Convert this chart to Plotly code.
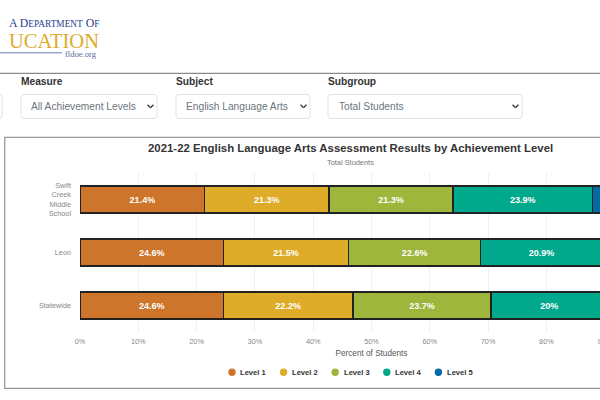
import plotly.graph_objects as go

schools = ["Swift<br>Creek<br>Middle<br>School", "Leon", "Statewide"]
levels = ["Level 1", "Level 2", "Level 3", "Level 4", "Level 5"]
level_1 = [21.4, 24.6, 24.6]
level_2 = [21.3, 21.5, 22.2]
level_3 = [21.3, 22.6, 23.7]
level_4 = [23.9, 20.9, 20.0]
level_5 = [12.4, 10.3, 9.5]
series = [level_1, level_2, level_3, level_4, level_5]
colors = ["#CC752B", "#DEAC28", "#9DB63B", "#00A88C", "#006BA6"]
tick_vals = [0, 10, 20, 30, 40, 50, 60, 70, 80, 90, 100]
tick_text = [f"{v}%" for v in tick_vals]

W, H = 700, 400
L, R, T, B = 80, 663, 173, 332
FONT = "Liberation Sans, Arial, sans-serif"
SERIF = "Liberation Serif, serif"
def px(x): return (x - L) / (R - L)
def py(y): return (B - y) / (B - T)

fig = go.Figure()
for name, vals, col in zip(levels, series, colors):
    fig.add_trace(go.Bar(
        y=schools, x=vals, name=name, orientation="h", showlegend=False,
        marker=dict(color=col, line=dict(color="#222222", width=1.4)),
        text=[f"{v:g}%" for v in vals], textposition="inside", insidetextanchor="middle",
        textangle=0, constraintext="none",
        textfont=dict(family=FONT, size=9, color="white", weight="bold"),
        hovertemplate="%{y}: %{x}%<extra>" + name + "</extra>",
    ))

def pline(x0, y0, x1, y1, color, width=1):
    return dict(type="line", xref="paper", yref="paper", x0=px(x0), x1=px(x1), y0=py(y0), y1=py(y1),
                line=dict(color=color, width=width))

def rounded(x0, y0, x1, y1, r=3):
    a, b, c, d = px(x0), px(x1), py(y0), py(y1)
    dx, dy = r / (R - L), r / (B - T)
    path = (f"M {a+dx} {c} L {b-dx} {c} Q {b} {c} {b} {c-dy} L {b} {d+dy} Q {b} {d} {b-dx} {d} "
            f"L {a+dx} {d} Q {a} {d} {a} {d+dy} L {a} {c-dy} Q {a} {c} {a+dx} {c} Z")
    return dict(type="path", xref="paper", yref="paper", path=path, fillcolor="white",
                line=dict(color="#dee2e6", width=1), layer="below")

shapes = [
    pline(-5, 73.3, 700, 73.3, "#8a8a8a", 1.3),
    dict(type="rect", xref="paper", yref="paper", x0=px(4.7), x1=px(720), y0=py(137.3), y1=py(388.3),
         line=dict(color="#999999", width=1.3), layer="below"),
    pline(-5, 52.8, 62, 52.8, "#6a7db0", 1),
]
for x0, x1 in [(-20, 2), (21, 157), (176, 310), (328, 522)]:
    shapes.append(rounded(x0, 94.5, x1, 118.5))
for cx in [150.5, 303.5, 515.5]:
    for a, b in [(cx - 3, cx), (cx + 3, cx)]:
        shapes.append(pline(a, 104.7, b, 107.7, "#343a40", 1.3))

def label(x, y, text, size, color, anchor="left", bold=False, family=FONT):
    fig.add_annotation(xref="paper", yref="paper", x=px(x), y=py(y), text=text, showarrow=False,
                       xanchor=anchor, yanchor="middle", borderpad=0, borderwidth=0,
                       font=dict(family=family, size=size, color=color,
                                 weight="bold" if bold else "normal"))

for i, (name, col) in enumerate(zip(levels, colors)):
    cx = 232 + 51.6 * i
    shapes.append(dict(type="circle", xref="paper", yref="paper", x0=px(cx - 3.7), x1=px(cx + 3.7),
                       y0=py(372.3 + 3.7), y1=py(372.3 - 3.7), fillcolor=col, line=dict(width=0)))
    label(cx + 8.3, 372.3, name, 7.6, "#333333", bold=True)

label(350.5, 148, "2021-22 English Language Arts Assessment Results by Achievement Level", 11.4, "#333333", "center", True)
label(350, 162, "Total Students", 7.4, "#777777", "center")
for x, t in [(21, "Measure"), (176, "Subject"), (328, "Subgroup")]:
    label(x, 81.5, t, 10.2, "#333333", bold=True)
for x, t in [(31, "All Achievement Levels"), (186, "English Language Arts"), (339, "Total Students")]:
    label(x, 106, t, 10.2, "#6c757d")
small = '<span style="font-size:9.3px">'
label(99, 23, f'A D{small}EPARTMENT</span> O{small}F</span>', 11.8, "#24408e", "right", family=SERIF)
label(98.5, 41, "UCATION", 20.5, "#dcab2c", "right", family=SERIF)
label(97, 54, "fldoe.org", 8.6, "#5a6a9a", "right", family=SERIF)

fig.update_layout(
    width=W, height=H, barmode="stack", bargap=0.49,
    paper_bgcolor="white", plot_bgcolor="white",
    font=dict(family=FONT),
    margin=dict(l=L, r=W - R, t=T, b=H - B, autoexpand=False),
    shapes=shapes, showlegend=False,
    xaxis=dict(range=[0, 100], tickmode="array", tickvals=tick_vals, ticktext=tick_text,
               tickfont=dict(size=7.3, color="#888888"), showgrid=True, gridcolor="#eef0f4",
               gridwidth=1, zeroline=False, ticks="", ticklabelstandoff=4,
               title=dict(text="Percent of Students", font=dict(size=8.2, color="#555555"), standoff=4)),
    yaxis=dict(autorange="reversed", tickfont=dict(size=7.3, color="#888888"), showgrid=False,
               ticks="", ticklabelstandoff=8, fixedrange=True),
)
fig.write_html("out.html", config=dict(displayModeBar=False),
               post_script="document.body.style.margin='0';document.body.style.overflow='hidden';"
                           "document.documentElement.style.overflow='hidden';")
